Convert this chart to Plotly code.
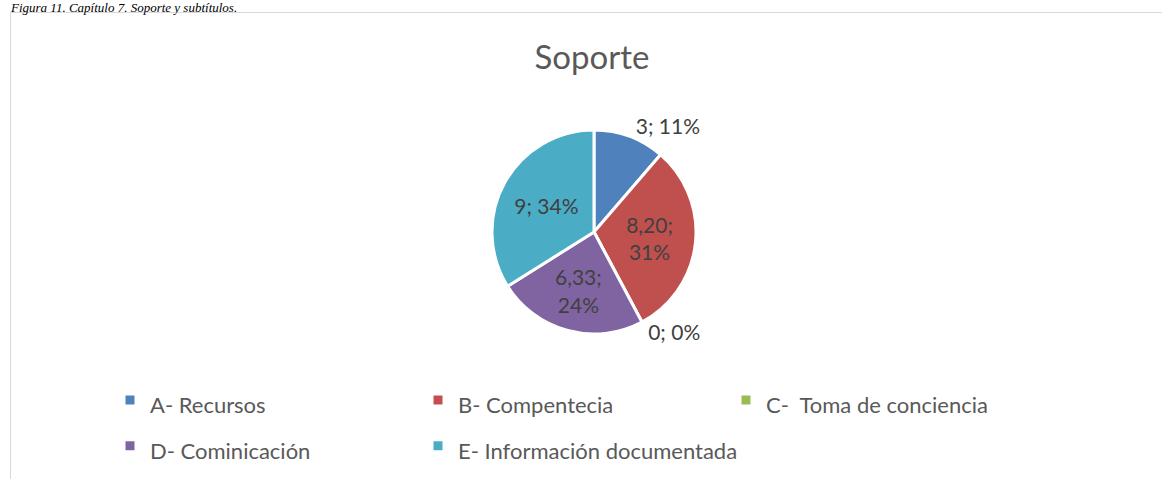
import plotly.graph_objects as go

# ---- data ----
categories = ["A- Recursos", "B- Compentecia", "C-  Toma de conciencia",
              "D- Cominicación", "E- Información documentada"]
values = [3, 8.20, 0, 6.33, 9]
colors = ["#4F81BD", "#C0504D", "#9BBB59", "#8064A2", "#4BACC6"]
text_positions = ["outside", "inside", "outside", "inside", "inside"]
label_line_break = [False, True, False, True, False]
title_text = "Soporte"
caption_text = "Figura 11. Capítulo 7. Soporte y subtítulos."

W, H = 1162, 479


def fmt(v):
    if float(v).is_integer():
        return str(int(v))
    return f"{v:.2f}".replace(".", ",")


value_text = [fmt(v) for v in values]
templates = ["%{text};<br>%{percent:.0%}" if b else "%{text}; %{percent:.0%}"
             for b in label_line_break]
legend_labels = [f'<span style="font-size:22px">{c}</span>' for c in categories]

cx, cy, r = 594, 232, 102

fig = go.Figure(go.Pie(
    labels=legend_labels,
    values=values,
    text=value_text,
    texttemplate=templates,
    textposition=text_positions,
    insidetextorientation="horizontal",
    textfont=dict(family="Lato", size=21, color="#404040"),
    marker=dict(colors=colors, line=dict(color="white", width=3)),
    sort=False,
    direction="clockwise",
    rotation=0,
    hoverinfo="label+value+percent",
    domain=dict(x=[(cx - r) / W, (cx + r) / W], y=[1 - (cy + r) / H, 1 - (cy - r) / H]),
))

fig.update_layout(
    width=W, height=H,
    margin=dict(l=0, r=0, t=0, b=0),
    paper_bgcolor="white",
    plot_bgcolor="white",
    title=dict(text=title_text, x=592 / W, xanchor="center", y=1 - 57 / H, yanchor="middle",
               font=dict(family="Lato", size=33, color="#595959")),
    legend=dict(orientation="h", x=110 / W, xanchor="left", y=1 - 372 / H, yanchor="top",
                font=dict(family="Lato", size=33, color="#595959"),
                entrywidth=263, entrywidthmode="pixels",
                bgcolor="rgba(0,0,0,0)"),
    shapes=[
        dict(type="line", xref="paper", yref="paper", x0=10 / W, x1=1, y0=1 - 12.5 / H, y1=1 - 12.5 / H,
             line=dict(color="#d9d9d9", width=1)),
        dict(type="line", xref="paper", yref="paper", x0=10.5 / W, x1=10.5 / W, y0=0, y1=1 - 12.5 / H,
             line=dict(color="#d9d9d9", width=1)),
    ],
    annotations=[
        dict(text=f"<i>{caption_text}</i>", xref="paper", yref="paper", x=8 / W, y=1,
             xanchor="left", yanchor="top", yshift=2, showarrow=False,
             font=dict(family="Liberation Serif", size=13, color="black")),
    ],
)

fig.write_html("out.html", config={"displayModeBar": False},
               post_script="document.body.style.margin='0';")
